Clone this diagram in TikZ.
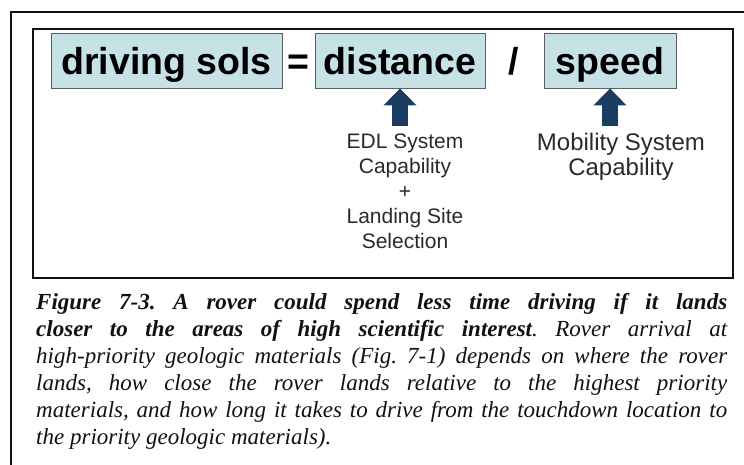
\documentclass[tikz,border=0pt]{standalone}
\usepackage{fontspec}
\setmainfont{Liberation Serif}
\setsansfont{Liberation Sans}
\usepackage{xcolor}
\usetikzlibrary{arrows.meta}
\definecolor{ink}{HTML}{111111}
\definecolor{boxfill}{HTML}{C6E2E6}
\definecolor{boxline}{HTML}{5E5E5E}
\definecolor{navy}{HTML}{1C3D63}
\definecolor{label}{HTML}{2A2A2A}

\begin{document}
\begin{tikzpicture}[x=1pt,y=-1pt,
  termbox/.style={draw=boxline,line width=.8pt,fill=boxfill,inner sep=0pt,
    minimum height=55pt,text height=41pt,text depth=14pt,
    font=\sffamily\bfseries\fontsize{37.5}{40}\selectfont},
  sign/.style={inner sep=0pt,text height=41pt,text depth=14pt,
    font=\sffamily\bfseries\fontsize{37.5}{40}\selectfont},
  source/.style={anchor=north,align=center,inner xsep=0pt,inner ysep=8pt,text=label,
    font=\sffamily\fontsize{21}{25}\selectfont},
  uparrow/.style={navy,line width=16pt,-{Triangle[width=32pt,length=17pt]}}]
\useasboundingbox (0,0) rectangle (744,464);
\clip (0,0) rectangle (744,464);
\draw[ink,line width=2pt] (11,12) rectangle (770,490);
\draw[ink,line width=2pt] (33,29) rectangle (733,278);
% equation row
\node[termbox,minimum width=231pt] (sols) at (166.5,60.5) {driving sols};
\node[sign] (eq) at (298,60.5) {=};
\node[termbox,minimum width=170pt] (dist) at (400,60.5) {distance};
\node[sign] (slash) at (514,60.5) {/};
\node[termbox,minimum width=132pt] (speed) at (610,60.5) {speed};
% what drives each term
\node[source] (edl) at (405,126) {EDL System\\Capability\\+\\Landing Site\\Selection};
\node[source,font=\sffamily\fontsize{24}{25}\selectfont,inner ysep=7pt] (mob) at (621,126)
  {Mobility System\\Capability};
\draw[uparrow] (edl.north -| dist.south) -- (dist.south);
\draw[uparrow] (mob.north -| speed.south) -- (speed.south);
% caption
\node[anchor=north west,text width=691pt,align=justify,inner sep=0pt,text=ink,
  font=\itshape\frenchspacing\fontsize{23}{27}\selectfont] (cap) at (36,293)
  {\textbf{Figure 7-3. A rover could spend less time driving if it lands\linebreak
  closer to the areas of high scientific interest}. Rover arrival at\linebreak
  high-priority geologic materials (Fig. 7-1) depends on where the rover\linebreak
  lands, how close the rover lands relative to the highest priority\linebreak
  materials, and how long it takes to drive from the touchdown location to\linebreak
  the priority geologic materials).};
\end{tikzpicture}
\end{document}
